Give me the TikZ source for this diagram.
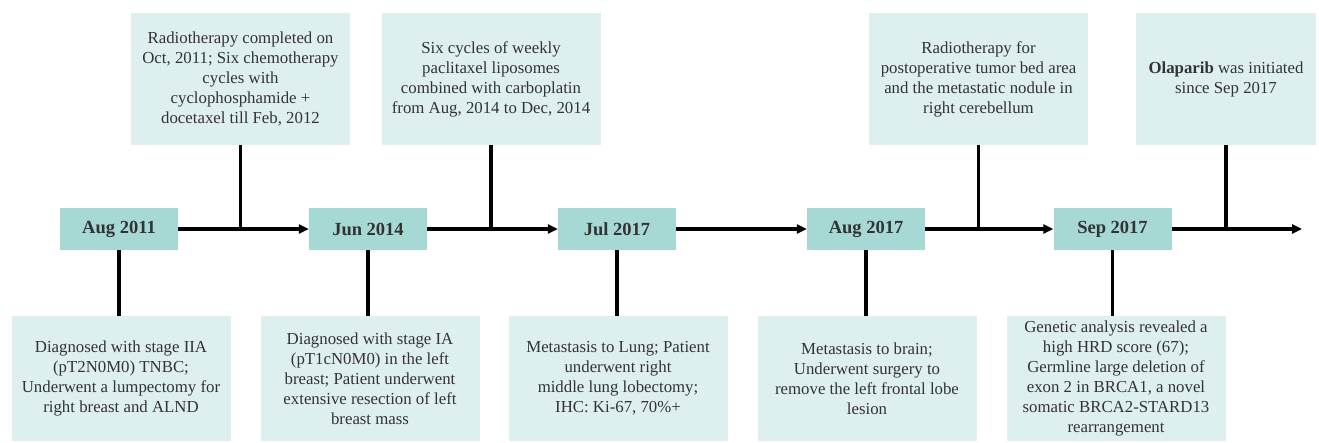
\documentclass[tikz,border=0pt]{standalone}
\usepackage{fontspec}
\setmainfont{Liberation Serif}
\usetikzlibrary{arrows.meta}

\definecolor{datefill}{HTML}{A6D8D4}
\definecolor{notefill}{HTML}{DDF0EF}
\definecolor{inktext}{HTML}{333333}

\tikzset{
  datebox/.style={fill=datefill, minimum width=118pt, minimum height=42pt, inner sep=0pt,
    font=\fontsize{18.5}{22}\selectfont\bfseries, text=inktext},
  notebox/.style={fill=notefill, minimum width=219pt, inner sep=0pt, align=center,
    font=\fontsize{16.8}{20}\selectfont, text=inktext},
  timeline/.style={line width=3.2pt, -{Triangle[length=10pt,width=9pt]}},
  stem/.style={line width=3.6pt}
}

\begin{document}
\begin{tikzpicture}[x=1pt,y=-1pt]

\useasboundingbox (0,0) rectangle (1319,443);

% Date boxes
\node[datebox] (d1) at (119,229) {Aug 2011};
\node[datebox] (d2) at (368,229) {Jun 2014};
\node[datebox] (d3) at (617,229) {Jul 2017};
\node[datebox] (d4) at (866,229) {Aug 2017};
\node[datebox] (d5) at (1112.5,229) {Sep 2017};
\coordinate (tip) at (1302,229);

% Treatments above the line
\node[notebox, minimum height=132pt] (t1) at (240.5,79)
  {Radiotherapy completed on\\Oct, 2011; Six chemotherapy\\cycles with\\cyclophosphamide +\\docetaxel till Feb, 2012};
\node[notebox, minimum height=132pt] (t2) at (491,79)
  {Six cycles of weekly\\paclitaxel liposomes\\combined with carboplatin\\from Aug, 2014 to Dec, 2014};
\node[notebox, minimum height=132pt] (t3) at (978.5,79)
  {Radiotherapy for\\postoperative tumor bed area\\and the metastatic nodule in\\right cerebellum};
\node[notebox, minimum height=132pt, minimum width=180pt] (t4) at (1226,79)
  {\textbf{Olaparib} was initiated\\since Sep 2017};

% Findings below the line
\node[notebox, minimum height=125pt] (b1) at (121,378.5)
  {Diagnosed with stage IIA\\(pT2N0M0) TNBC;\\Underwent a lumpectomy for\\right breast and ALND};
\node[notebox, minimum height=125pt] (b2) at (370,378.5)
  {Diagnosed with stage IA\\(pT1cN0M0) in the left\\breast; Patient underwent\\extensive resection of left\\breast mass};
\node[notebox, minimum height=125pt] (b3) at (618,378.5)
  {Metastasis to Lung; Patient\\underwent right\\middle lung lobectomy;\\IHC: Ki-67, 70\%+};
\node[notebox, minimum height=125pt] (b4) at (867,378.5)
  {Metastasis to brain;\\Underwent surgery to\\remove the left frontal lobe\\lesion};
\node[notebox, minimum height=125pt] (b5) at (1116,378.5)
  {Genetic analysis revealed a\\high HRD score (67);\\Germline large deletion of\\exon 2 in BRCA1, a novel\\somatic BRCA2-STARD13\\rearrangement};

% Time line
\draw[timeline] (d1) -- (d2);
\draw[timeline] (d2) -- (d3);
\draw[timeline] (d3) -- (d4);
\draw[timeline] (d4) -- (d5);
\draw[timeline] (d5) -- (tip);

% Stems from the boxes above
\draw[stem] (t1.south) -- (t1.south |- d1.center);
\draw[stem] (t2.south) -- (t2.south |- d2.center);
\draw[stem] (t3.south) -- (t3.south |- d4.center);
\draw[stem] (t4.south) -- (t4.south |- d5.center);

% Stems to the boxes below
\draw[stem] (d1.south) -- (d1.south |- b1.north);
\draw[stem] (d2.south) -- (d2.south |- b2.north);
\draw[stem] (d3.south) -- (d3.south |- b3.north);
\draw[stem] (d4.south) -- (d4.south |- b4.north);
\draw[stem] (d5.south) -- (d5.south |- b5.north);

\end{tikzpicture}
\end{document}
